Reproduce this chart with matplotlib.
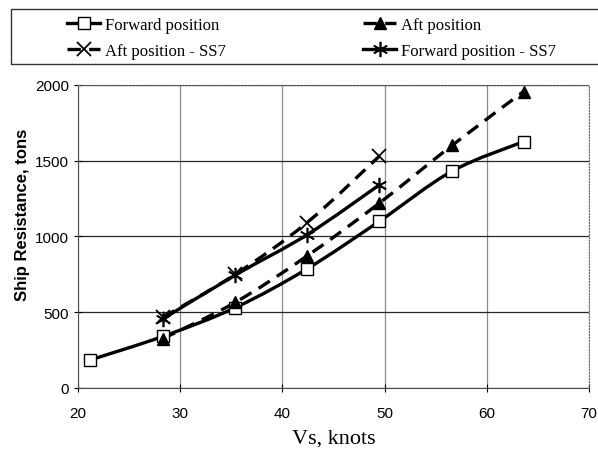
import matplotlib
matplotlib.use('Agg')
import matplotlib.pyplot as plt
from matplotlib.path import Path
from matplotlib.patches import PathPatch, Rectangle
from matplotlib.lines import Line2D
import numpy as np

# data
speed = [21.2, 28.3, 35.4, 42.4, 49.5, 56.6, 63.6]
fwd = [185, 340, 530, 785, 1100, 1430, 1625]
aft_speed = [28.3, 35.4, 42.4, 49.5, 56.6, 63.6]
aft = [325, 565, 870, 1220, 1600, 1955]
ss7_speed = [28.3, 35.4, 42.4, 49.5]
aft_ss7 = [465, 750, 1090, 1530]
fwd_ss7 = [455, 745, 1010, 1340]

SERIF = 'Liberation Serif'
SANS = 'Liberation Sans'


def smooth_path(x, y):
    # Excel-style smoothed line: Catmull-Rom segments as cubic Beziers
    p = np.column_stack([x, y]).astype(float)
    ext = np.vstack([p[0], p, p[-1]])
    verts = [p[0]]
    codes = [Path.MOVETO]
    for i in range(len(p) - 1):
        p0, p1, p2, p3 = ext[i], ext[i + 1], ext[i + 2], ext[i + 3]
        verts += [p1 + (p2 - p0) / 6, p2 - (p3 - p1) / 6, p2]
        codes += [Path.CURVE4] * 3
    return Path(verts, codes)


fig = plt.figure(figsize=(5.98, 4.56), dpi=100)
ax = fig.add_axes([0.1304, 0.147, 0.8546, 0.665])

dash = (0, (4, 2.5))
series = {
    'fwd': (speed, fwd, 'Forward position', '-',
            dict(marker='s', mfc='white', mec='black', ms=9, mew=1.0)),
    'aft': (aft_speed, aft, 'Aft position', dash,
            dict(marker='^', mfc='black', mec='black', ms=9)),
    'aft_ss7': (ss7_speed, aft_ss7, 'Aft position - SS7', dash,
                dict(marker='x', mec='black', ms=10, mew=1.3)),
    'fwd_ss7': (ss7_speed, fwd_ss7, 'Forward position - SS7', '-',
                dict(marker=(6, 2, 0), mec='black', ms=11, mew=1.2)),
}

handles = {}
for key, (x, y, lab, ls, mk) in series.items():
    ax.add_patch(PathPatch(smooth_path(x, y), facecolor='none', edgecolor='black',
                           lw=2.4, linestyle=ls, zorder=3))
    ax.plot(x, y, linestyle='none', zorder=4, **mk)
    handles[key] = Line2D([], [], color='black', lw=2.4, linestyle=ls, label=lab, **mk)

ax.set_xlim(20, 70)
ax.set_ylim(0, 2000)
ax.set_xticks(range(20, 71, 10))
ax.set_yticks(range(0, 2001, 500))
ax.xaxis.grid(True, color='0.55', lw=0.9)
ax.yaxis.grid(True, color='0.15', lw=0.9)
ax.tick_params(direction='inout', length=6, width=0.8, labelsize=11)
ax.tick_params(axis='x', pad=10)
for t in ax.get_xticklabels() + ax.get_yticklabels():
    t.set_family(SANS)
for s in ['top', 'right']:
    ax.spines[s].set_color('0.4')
    ax.spines[s].set_linestyle(':')
for s in ['left', 'bottom']:
    ax.spines[s].set_color('0.3')

ax.set_xlabel('Vs, knots', family=SERIF, fontsize=16, labelpad=6)
ax.set_ylabel('Ship Resistance, tons', family=SANS, fontsize=12, fontweight='bold')
ax.yaxis.set_label_coords(-0.094, 0.574)

# legend: row-wise order as in the reference (matplotlib fills columns first)
order = ['fwd', 'aft_ss7', 'aft', 'fwd_ss7']
fig.legend(handles=[handles[k] for k in order], ncol=2, loc='upper left',
           bbox_to_anchor=(67 / 598, 1 - 18 / 456),
           prop={'family': SERIF, 'size': 12}, frameon=False,
           handlelength=2.0, handletextpad=0.3, columnspacing=8.2,
           borderaxespad=0, borderpad=0, labelspacing=0.6)
fig.add_artist(Rectangle((11 / 598, 1 - 65 / 456), 1.0, 55 / 456,
                         transform=fig.transFigure, facecolor='none',
                         edgecolor='0.2', lw=1.0))

fig.savefig('out.png', dpi=100)
